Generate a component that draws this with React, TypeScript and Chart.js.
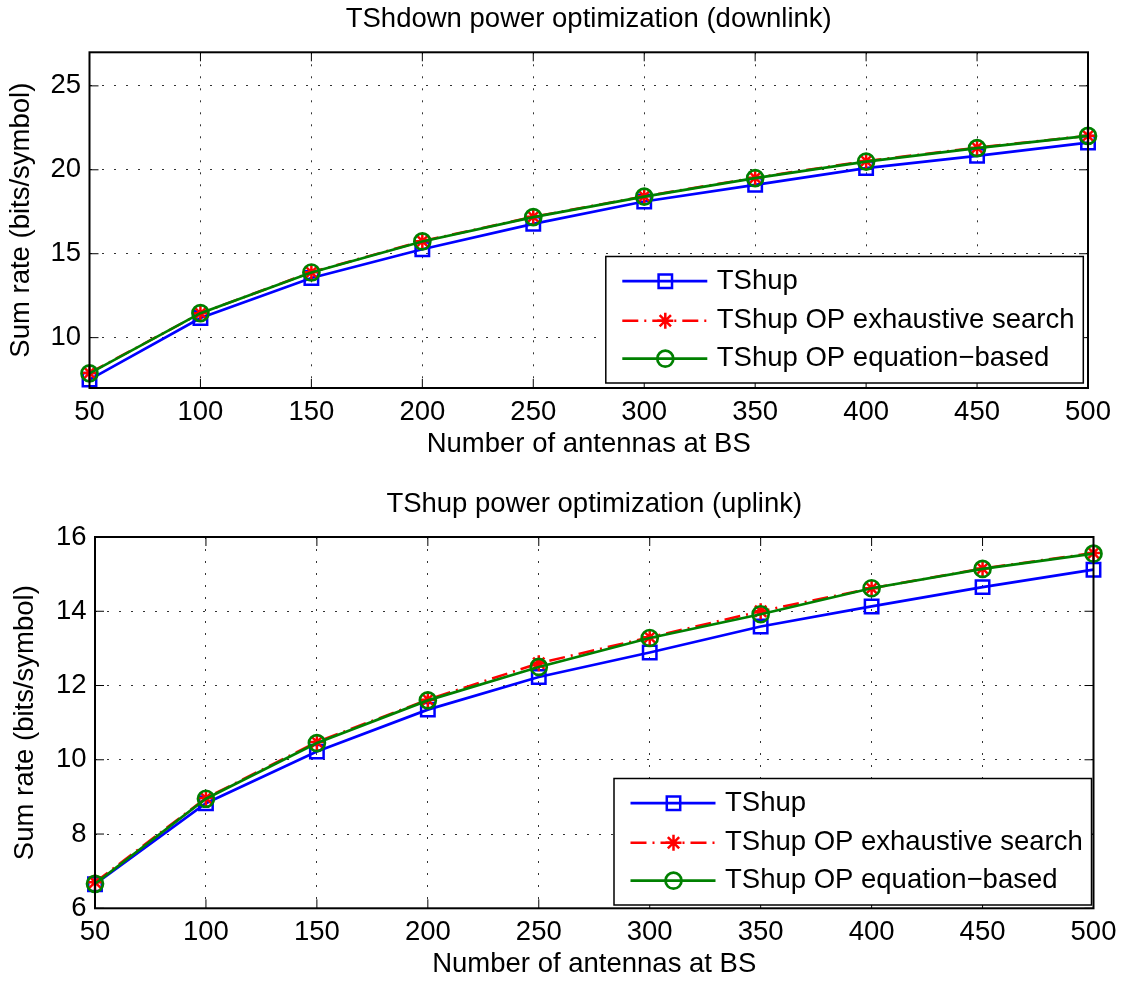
import React, { useEffect, useRef } from "react";
import { Chart, registerables } from "chart.js";

Chart.register(...registerables);

const FONT = "'Liberation Sans', Arial, Helvetica, sans-serif";
const FS = 27.5;

// ---- data ----
const antennas = [50, 100, 150, 200, 250, 300, 350, 400, 450, 500];
const xTicks = [50, 100, 150, 200, 250, 300, 350, 400, 450, 500];

const downTShup = [7.5, 11.17, 13.55, 15.27, 16.78, 18.11, 19.1, 20.1, 20.83, 21.62];
const downExhaustive = [7.9, 11.45, 13.9, 15.75, 17.2, 18.42, 19.53, 20.52, 21.32, 22.03];
const downEquation = [7.87, 11.46, 13.88, 15.73, 17.18, 18.4, 19.5, 20.49, 21.29, 22.02];
const downYTicks = [10, 15, 20, 25];

const upTShup = [6.65, 8.83, 10.22, 11.35, 12.23, 12.89, 13.59, 14.13, 14.65, 15.12];
const upExhaustive = [6.7, 8.97, 10.48, 11.62, 12.6, 13.3, 14.0, 14.62, 15.15, 15.57];
const upEquation = [6.66, 8.95, 10.45, 11.6, 12.5, 13.28, 13.92, 14.62, 15.14, 15.55];
const upYTicks = [6, 8, 10, 12, 14, 16];

const seriesNames = ["TShup", "TShup OP exhaustive search", "TShup OP equation\u2212based"];
const xTitle = "Number of antennas at BS";
const yTitle = "Sum rate (bits/symbol)";
const downTitle = "TShdown power optimization (downlink)";
const upTitle = "TShup power optimization (uplink)";

function drawMarker(ctx: CanvasRenderingContext2D, style: string, x: number, y: number, r: number) {
  ctx.beginPath();
  if (style === "rect") {
    const s = r * Math.SQRT1_2;
    ctx.rect(x - s, y - s, 2 * s, 2 * s);
  } else if (style === "circle") {
    ctx.arc(x, y, r, 0, Math.PI * 2);
  } else if (style === "star") {
    ctx.moveTo(x - r, y); ctx.lineTo(x + r, y);
    ctx.moveTo(x, y - r); ctx.lineTo(x, y + r);
    const d = r * Math.SQRT1_2;
    ctx.moveTo(x - d, y - d); ctx.lineTo(x + d, y + d);
    ctx.moveTo(x - d, y + d); ctx.lineTo(x + d, y - d);
  }
  ctx.stroke();
}

const framePlugin = {
  id: "frame",
  afterDraw(chart: any, _args: any, opts: any) {
    const { ctx, chartArea: a, scales } = chart;
    const xs = scales.x;
    const ys = scales.y;
    ctx.save();
    ctx.setLineDash([]);
    ctx.strokeStyle = "#000";
    ctx.lineWidth = 1;
    const tl = 9;
    ctx.beginPath();
    xs.ticks.forEach((t: any) => {
      const p = xs.getPixelForValue(t.value);
      ctx.moveTo(p, a.bottom); ctx.lineTo(p, a.bottom - tl);
      ctx.moveTo(p, a.top); ctx.lineTo(p, a.top + tl);
    });
    ys.ticks.forEach((t: any) => {
      const p = ys.getPixelForValue(t.value);
      ctx.moveTo(a.left, p); ctx.lineTo(a.left + tl, p);
      ctx.moveTo(a.right, p); ctx.lineTo(a.right - tl, p);
    });
    ctx.stroke();
    ctx.lineWidth = 2;
    ctx.strokeRect(a.left, a.top, a.right - a.left, a.bottom - a.top);

    // legend box
    const w = 477.5;
    const h = 126.5;
    const lx = a.right - opts.insetRight - w;
    const ly = a.bottom - opts.insetBottom - h;
    ctx.fillStyle = "#fff";
    ctx.fillRect(lx, ly, w, h);
    ctx.lineWidth = 1.5;
    ctx.strokeStyle = "#000";
    ctx.strokeRect(lx, ly, w, h);
    const rows = [24.7, 64.2, 102.2];
    chart.data.datasets.forEach((ds: any, i: number) => {
      const y = ly + rows[i];
      ctx.save();
      ctx.strokeStyle = ds.borderColor;
      ctx.lineWidth = ds.borderWidth;
      ctx.setLineDash(ds.borderDash || []);
      ctx.beginPath();
      ctx.moveTo(lx + 16.5, y);
      ctx.lineTo(lx + 101.5, y);
      ctx.stroke();
      ctx.setLineDash([]);
      ctx.lineWidth = ds.pointBorderWidth;
      drawMarker(ctx, ds.pointStyle, lx + 59.5, y, ds.pointRadius);
      ctx.restore();
      ctx.fillStyle = "#000";
      ctx.font = `normal ${FS}px ${FONT}`;
      ctx.textBaseline = "middle";
      ctx.textAlign = "left";
      ctx.fillText(ds.label, lx + 111, y);
    });
    ctx.restore();
  },
};

type Params = {
  title: string;
  a: number[];
  b: number[];
  c: number[];
  yMin: number;
  yMax: number;
  yTicks: number[];
  yWidth: number;
  titlePad: { top: number; bottom: number };
  yTitlePadTop: number;
  xTickPad: number;
  xTitlePadBottom: number;
  padRight: number;
  padBottom: number;
  insetRight: number;
  insetBottom: number;
};

function font() {
  return { family: FONT, size: FS, lineHeight: 1.2, weight: "normal" as const };
}

function buildConfig(p: Params): any {
  const mk = (vals: number[]) => antennas.map((x, i) => ({ x, y: vals[i] }));
  return {
    type: "line",
    data: {
      datasets: [
        {
          label: seriesNames[0],
          data: mk(p.a),
          borderColor: "#0000ff",
          backgroundColor: "#0000ff",
          borderWidth: 2.7,
          pointStyle: "rect",
          pointRadius: 9.5,
          pointBorderWidth: 2.5,
          pointBorderColor: "#0000ff",
          pointBackgroundColor: "rgba(0,0,0,0)",
          order: 2,
          clip: false,
          tension: 0,
        },
        {
          label: seriesNames[1],
          data: mk(p.b),
          borderColor: "#ff0000",
          backgroundColor: "#ff0000",
          borderWidth: 2.5,
          borderDash: [16, 6, 2, 6],
          pointStyle: "star",
          pointRadius: 8,
          pointBorderWidth: 2.5,
          pointBorderColor: "#ff0000",
          pointBackgroundColor: "rgba(0,0,0,0)",
          order: 1,
          clip: false,
          tension: 0,
        },
        {
          label: seriesNames[2],
          data: mk(p.c),
          borderColor: "#008000",
          backgroundColor: "#008000",
          borderWidth: 2.7,
          pointStyle: "circle",
          pointRadius: 8,
          pointBorderWidth: 2.7,
          pointBorderColor: "#008000",
          pointBackgroundColor: "rgba(0,0,0,0)",
          order: 0,
          clip: false,
          tension: 0,
        },
      ],
    },
    options: {
      responsive: false,
      animation: false,
      devicePixelRatio: 1,
      events: [],
      layout: { padding: { left: 0, top: 0, right: p.padRight, bottom: p.padBottom } },
      plugins: {
        legend: { display: false },
        tooltip: { enabled: false },
        title: {
          display: true,
          text: p.title,
          fullSize: false,
          color: "#000",
          font: font(),
          padding: p.titlePad,
        },
        frame: { insetRight: p.insetRight, insetBottom: p.insetBottom },
      },
      scales: {
        x: {
          type: "linear",
          min: 50,
          max: 500,
          afterBuildTicks: (s: any) => {
            s.ticks = xTicks.map((v) => ({ value: v }));
          },
          afterFit: (s: any) => {
            s.height = 75;
          },
          grid: { color: "#333", lineWidth: 1, drawTicks: false },
          border: { display: false, dash: [2, 10] },
          ticks: { color: "#000", font: font(), padding: p.xTickPad, maxRotation: 0, minRotation: 0, autoSkip: false },
          title: { display: true, text: xTitle, color: "#000", font: font(), padding: { top: 0, bottom: p.xTitlePadBottom } },
        },
        y: {
          type: "linear",
          min: p.yMin,
          max: p.yMax,
          afterBuildTicks: (s: any) => {
            s.ticks = p.yTicks.map((v) => ({ value: v }));
          },
          afterFit: (s: any) => {
            s.width = p.yWidth;
          },
          grid: { color: "#333", lineWidth: 1, drawTicks: false },
          border: { display: false, dash: [2, 10] },
          ticks: { color: "#000", font: font(), padding: 8.5, autoSkip: false },
          title: { display: true, text: yTitle, color: "#000", font: font(), padding: { top: p.yTitlePadTop, bottom: 0 } },
        },
      },
    },
    plugins: [framePlugin],
  };
}

function ChartBox({ config, top, width, height }: { config: any; top: number; width: number; height: number }) {
  const ref = useRef<HTMLCanvasElement>(null);
  useEffect(() => {
    const chart = new Chart(ref.current as HTMLCanvasElement, config);
    return () => chart.destroy();
  }, []);
  return (
    <div style={{ position: "absolute", left: 0, top, width, height }}>
      <canvas ref={ref} width={width} height={height} style={{ display: "block", width, height }} />
    </div>
  );
}

export default function App() {
  const topConfig = buildConfig({
    title: downTitle,
    a: downTShup,
    b: downExhaustive,
    c: downEquation,
    yMin: 7,
    yMax: 27,
    yTicks: downYTicks,
    yWidth: 89.5,
    titlePad: { top: 3.3, bottom: 16 },
    yTitlePadTop: 4.6,
    xTickPad: 7.7,
    xTitlePadBottom: 2,
    padRight: 39,
    padBottom: 0,
    insetRight: 4.7,
    insetBottom: 5,
  });
  const bottomConfig = buildConfig({
    title: upTitle,
    a: upTShup,
    b: upExhaustive,
    c: upEquation,
    yMin: 6,
    yMax: 16,
    yTicks: upYTicks,
    yWidth: 95,
    titlePad: { top: 18.3, bottom: 15.7 },
    yTitlePadTop: 9.1,
    xTickPad: 7.4,
    xTitlePadBottom: 2.7,
    padRight: 33.5,
    padBottom: 0.7,
    insetRight: 2,
    insetBottom: 3.3,
  });
  return (
    <div style={{ position: "absolute", left: 0, top: 0, width: 1127, height: 984, background: "#fff" }}>
      <ChartBox config={topConfig} top={0} width={1127} height={463} />
      <ChartBox config={bottomConfig} top={470} width={1127} height={514} />
    </div>
  );
}
